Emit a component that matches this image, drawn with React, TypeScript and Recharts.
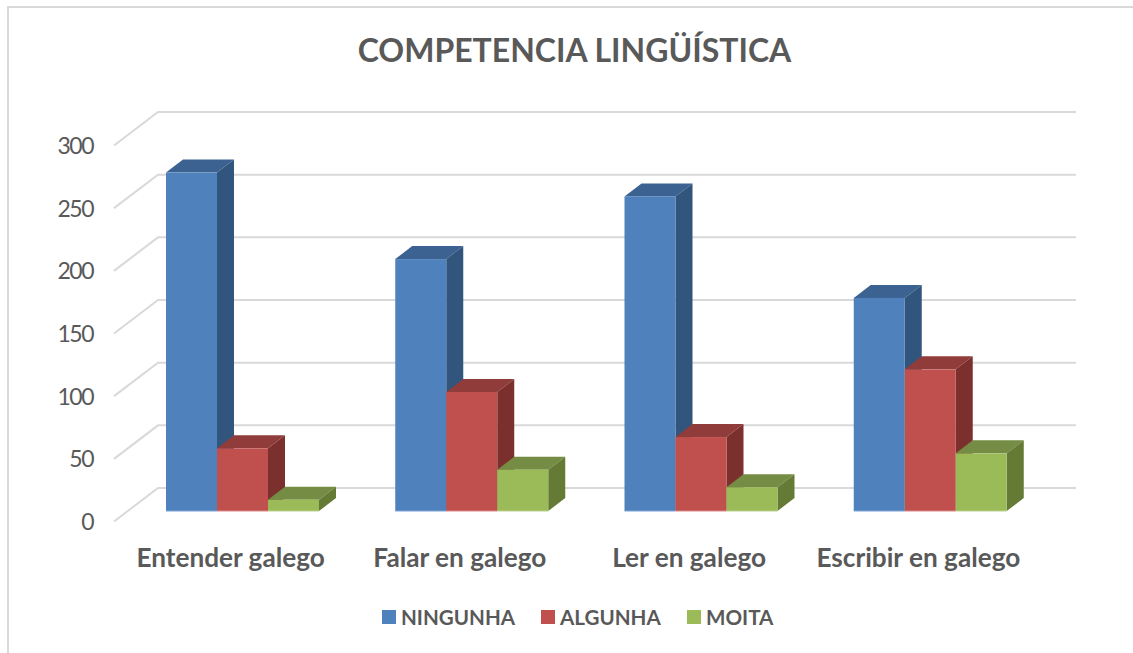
import React from "react";
import { BarChart, Bar, XAxis, YAxis, CartesianGrid, Legend } from "recharts";

const categories = ["Entender galego", "Falar en galego", "Ler en galego", "Escribir en galego"];
const ninguna = [270, 201, 251, 170];
const alguna = [50, 95, 59, 113];
const moita = [9, 33, 19, 46];
const yTicks = [0, 50, 100, 150, 200, 250, 300];
const title = "COMPETENCIA LINGÜÍSTICA";
const seriesNames = ["NINGUNHA", "ALGUNHA", "MOITA"];

const data = categories.map((name, i) => ({
  name,
  [seriesNames[0]]: ninguna[i],
  [seriesNames[1]]: alguna[i],
  [seriesNames[2]]: moita[i],
}));

const FONT = "Lato, Carlito, Calibri, sans-serif";
const TEXT = "#595959";
const GRID = "#D9D9D9";
const DX = 17;
const DY = -13;

const palette: Record<string, { front: string; top: string; side: string; edge: string }> = {
  NINGUNHA: { front: "#4F81BD", top: "#3B6291", side: "#32557D", edge: "#7FA5D6" },
  ALGUNHA: { front: "#C0504D", top: "#903C3A", side: "#7C302E", edge: "#D98A88" },
  MOITA: { front: "#9BBB59", top: "#748C43", side: "#647A35", edge: "#BDD28F" },
};

const Box3D = (props: any) => {
  const { x, y, width, height, dataKey } = props;
  const c = palette[dataKey];
  const r = x + width;
  const b = y + height;
  return (
    <g>
      <polygon points={`${x},${y} ${x + DX},${y + DY} ${r + DX},${y + DY} ${r},${y}`} fill={c.top} />
      <polygon points={`${r},${y} ${r + DX},${y + DY} ${r + DX},${b + DY} ${r},${b}`} fill={c.side} />
      <rect x={x} y={y} width={width} height={height} fill={c.front} />
      <line x1={x} y1={b} x2={r} y2={b} stroke={c.edge} strokeWidth={1} />
    </g>
  );
};

const WallLine = (props: any) => {
  const { y1, x2 } = props;
  const y = y1;
  return (
    <path
      key={`wall-${y}`}
      d={`M114,${y + 10.5} L158,${y - 23} L${x2 + 31},${y - 23}`}
      fill="none"
      stroke={GRID}
      strokeWidth={2}
    />
  );
};

const LegendRow = () => {
  const positions = [382, 541, 687];
  return (
    <div style={{ position: "relative", width: 1133, height: 30 }}>
      {seriesNames.map((n, i) => (
        <div key={n} style={{ position: "absolute", left: positions[i], top: 0, height: 30, display: "flex", alignItems: "center", whiteSpace: "nowrap" }}>
          <span style={{ width: 14, height: 14, background: palette[n].front, display: "inline-block", marginRight: 5 }} />
          <span style={{ fontFamily: FONT, fontWeight: 700, fontSize: 20.6, color: TEXT }}>{n}</span>
        </div>
      ))}
    </div>
  );
};

export default function App() {
  return (
    <div style={{ position: "absolute", left: 0, top: 0, width: 1133, height: 653, background: "#fff", overflow: "hidden" }}>
      <div style={{ position: "absolute", left: 7, top: 6, right: -10, bottom: -10, borderLeft: `2px solid ${GRID}`, borderTop: `2px solid ${GRID}` }} />
      <BarChart
        width={1133}
        height={653}
        data={data}
        margin={{ top: 135, right: 88, bottom: 0, left: 0 }}
        barCategoryGap={38}
        barGap={0}
        style={{ position: "absolute", left: 0, top: 0 }}
      >
        <text x={574.5} y={62} textAnchor="middle" fontFamily={FONT} fontWeight={700} fontSize={32} fill={TEXT}>
          {title}
        </text>
        <CartesianGrid vertical={false} horizontal={WallLine as any} />
        <XAxis
          dataKey="name"
          axisLine={false}
          tickLine={false}
          height={142}
          interval={0}
          tickSize={0}
          tickMargin={37}
          tick={{ fill: TEXT, fontFamily: FONT, fontSize: 26.2, fontWeight: 700, dx: -12 }}
        />
        <YAxis
          domain={[0, 300]}
          ticks={yTicks}
          width={128}
          axisLine={false}
          tickLine={false}
          tickSize={0}
          tickMargin={35}
          tick={{ fill: TEXT, fontFamily: FONT, fontSize: 23, dy: 11, letterSpacing: -1.5 }}
        />
        <Legend layout="horizontal" verticalAlign="middle" wrapperStyle={{ left: 0, top: 602, width: 1133 }} content={<LegendRow />} />
        {seriesNames.map((n) => (
          <Bar key={n} dataKey={n} fill={palette[n].front} shape={<Box3D dataKey={n} />} isAnimationActive={false} />
        ))}
      </BarChart>
    </div>
  );
}
